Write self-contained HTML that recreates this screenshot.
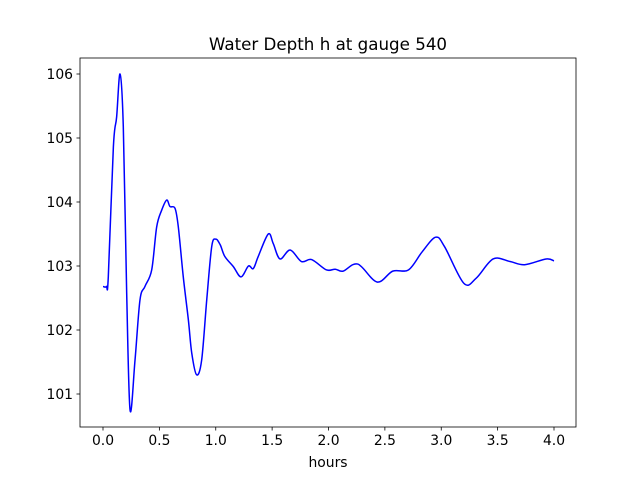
<!DOCTYPE html>
<html><head><meta charset="utf-8"><style>
body{margin:0;background:#fff}
svg text{font-family:"DejaVu Sans","Liberation Sans",sans-serif;fill:#000}
</style></head><body>
<svg id="chart" width="640" height="480" xmlns="http://www.w3.org/2000/svg">
<rect width="640" height="480" fill="#fff"/>
<text x="328" y="50" font-size="16.7" text-anchor="middle">Water Depth h at gauge 540</text>
<text x="328" y="467" font-size="13.9" text-anchor="middle">hours</text>
<g id="ticks"></g>
<path id="line" fill="none" stroke="#0000ff" stroke-width="1.5" stroke-linejoin="round"/>
<rect x="80" y="58" width="496" height="369" fill="none" stroke="#000" stroke-width="0.8"/>
</svg>
<script>
const hours=[0,0.03,0.047,0.092,0.121,0.151,0.18,0.21,0.24,0.284,0.328,0.372,0.432,0.476,0.52,0.565,0.594,0.639,0.668,0.712,0.757,0.787,0.83,0.875,0.92,0.964,1.0,1.04,1.08,1.156,1.224,1.29,1.333,1.377,1.466,1.51,1.57,1.66,1.76,1.85,1.98,2.06,2.13,2.26,2.43,2.57,2.71,2.83,2.95,3.03,3.2,3.31,3.46,3.61,3.74,3.93,4.0];
const depth=[102.68,102.68,102.83,104.86,105.33,106.0,105.18,102.58,100.75,101.53,102.47,102.68,102.94,103.61,103.87,104.03,103.93,103.9,103.61,102.83,102.16,101.64,101.3,101.53,102.47,103.3,103.42,103.33,103.15,102.99,102.83,103.0,102.96,103.15,103.5,103.35,103.11,103.25,103.07,103.1,102.94,102.95,102.92,103.03,102.75,102.92,102.94,103.22,103.45,103.3,102.73,102.81,103.11,103.07,103.02,103.11,103.08];
const xTicks=[0,0.5,1,1.5,2,2.5,3,3.5,4];
const xTickLabels=["0.0","0.5","1.0","1.5","2.0","2.5","3.0","3.5","4.0"];
const yTicks=[101,102,103,104,105,106];
const yTickLabels=["101","102","103","104","105","106"];
const xs=v=>103+v*112.75;
const ys=v=>74+(106-v)*64;
const NS="http://www.w3.org/2000/svg";
const g=document.getElementById('ticks');
function add(tag,attrs,txt){const e=document.createElementNS(NS,tag);for(const k in attrs)e.setAttribute(k,attrs[k]);if(txt)e.textContent=txt;g.appendChild(e);return e;}
xTicks.forEach((t,i)=>{const x=xs(t);
const l=add('line',{x1:x,x2:x,y1:427,y2:430.5,stroke:'#000','stroke-width':0.8});


const tx=add('text',{x:x,y:445,'font-size':13.9,'text-anchor':'middle'},xTickLabels[i]);

});
yTicks.forEach((t,i)=>{const y=ys(t);
const l=add('line',{x1:76.5,x2:80,y1:y,y2:y,stroke:'#000','stroke-width':0.8});


const tx=add('text',{x:73,y:y+5,'font-size':13.9,'text-anchor':'end'},yTickLabels[i]);

});
const P=hours.map((h,i)=>[xs(h),ys(depth[i])]);
let d='M'+P[0][0]+','+P[0][1];
for(let i=0;i<P.length-1;i++){const p0=P[Math.max(0,i-1)],p1=P[i],p2=P[i+1],p3=P[Math.min(P.length-1,i+2)];
const c1=[p1[0]+(p2[0]-p0[0])/6,p1[1]+(p2[1]-p0[1])/6],c2=[p2[0]-(p3[0]-p1[0])/6,p2[1]-(p3[1]-p1[1])/6];
d+=`C${c1[0]},${c1[1]} ${c2[0]},${c2[1]} ${p2[0]},${p2[1]}`;}
document.getElementById('line').setAttribute('d',d);
</script>
</body></html>
